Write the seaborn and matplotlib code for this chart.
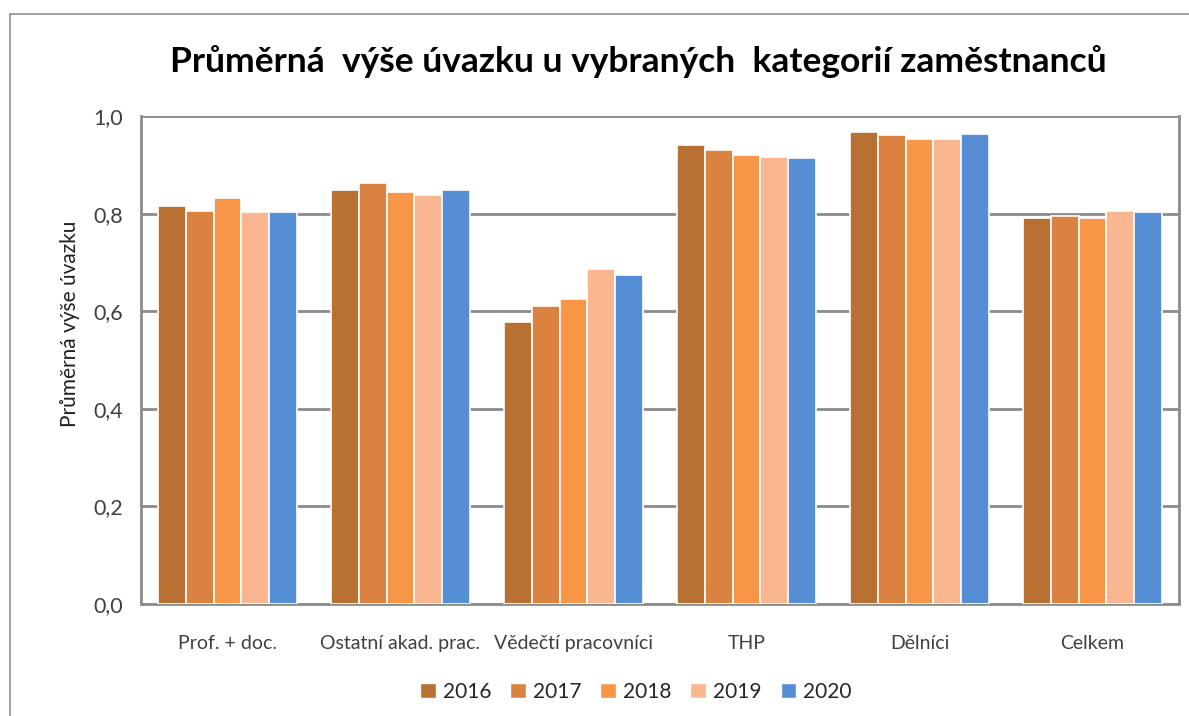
import pandas as pd
import numpy as np
import matplotlib
matplotlib.use('Agg')
import matplotlib.pyplot as plt
import seaborn as sns
from matplotlib.lines import Line2D

# data
kategorie = ['Prof. + doc.', 'Ostatní akad. prac.', 'Vědečtí pracovníci', 'THP', 'Dělníci', 'Celkem']
roky = ['2016', '2017', '2018', '2019', '2020']
hodnoty_2016 = [0.816, 0.848, 0.578, 0.941, 0.968, 0.791]
hodnoty_2017 = [0.805, 0.862, 0.610, 0.931, 0.961, 0.796]
hodnoty_2018 = [0.832, 0.845, 0.625, 0.921, 0.953, 0.791]
hodnoty_2019 = [0.803, 0.839, 0.686, 0.916, 0.953, 0.805]
hodnoty_2020 = [0.803, 0.848, 0.674, 0.913, 0.963, 0.803]
barvy = ['#B87132', '#DA8340', '#F79646', '#F9B690', '#558ED5']

hodnoty = [hodnoty_2016, hodnoty_2017, hodnoty_2018, hodnoty_2019, hodnoty_2020]
df = pd.DataFrame({
    'kategorie': [k for _ in roky for k in kategorie],
    'rok': [r for r in roky for _ in kategorie],
    'uvazek': [v for serie in hodnoty for v in serie],
})

sns.set_style('white')
plt.rcParams['font.family'] = ['Lato', 'DejaVu Sans']

fig = plt.figure(figsize=(11.89, 7.16), dpi=100)
ax = fig.add_axes([141 / 1189, 112 / 716, 1038 / 1189, 488 / 716])

sns.barplot(data=df, x='kategorie', y='uvazek', hue='rok', order=kategorie,
            hue_order=roky, palette=barvy, width=0.8, edgecolor='white',
            linewidth=1.2, saturation=1, legend=False, ax=ax, zorder=3)

seda = '#8C8C8C'
ax.set_ylim(0, 1.0)
ax.set_xlim(-0.5, len(kategorie) - 0.5)
ax.set_yticks(np.arange(0, 1.01, 0.2))
ax.set_yticklabels([f'{t:.1f}'.replace('.', ',') for t in np.arange(0, 1.01, 0.2)],
                   fontsize=15.5, color='#404040')
ax.yaxis.grid(True, color=seda, linewidth=2, zorder=0)
ax.set_axisbelow(True)

# category ticks on the boundaries, labels in the middle
ax.set_xticks(np.arange(-0.5, len(kategorie), 1.0))
ax.set_xticklabels([])
ax.set_xticks(np.arange(len(kategorie)), minor=True)
ax.set_xticklabels(kategorie, minor=True, fontsize=14, color='#404040')
ax.tick_params(axis='x', which='major', length=7, width=1.5, color=seda, direction='out')
ax.tick_params(axis='x', which='minor', length=0, pad=22)
ax.tick_params(axis='y', length=7, width=1.5, color=seda, direction='out', pad=6)

for s in ['left', 'bottom', 'right']:
    ax.spines[s].set_color(seda)
    ax.spines[s].set_linewidth(2)
ax.spines['top'].set_visible(False)

ax.set_xlabel('')
ax.set_ylabel('')
fig.text(70 / 1189, 1 - 324 / 716, 'Průměrná výše úvazku', rotation=90,
         ha='center', va='center', fontsize=15, color='#202020')

fig.text(638 / 1189, 1 - 62 / 716, 'Průměrná  výše úvazku u vybraných  kategorií zaměstnanců',
         ha='center', va='center', fontsize=25.5, fontweight='bold', color='black')

# legend below the chart
handles = [plt.Rectangle((0, 0), 1, 1, facecolor=c, edgecolor='white') for c in barvy]
fig.legend(handles, roky, loc='center', bbox_to_anchor=(636 / 1189, 1 - 692 / 716),
           ncol=5, frameon=False, fontsize=15, handlelength=0.75, handleheight=0.75,
           handletextpad=0.35, columnspacing=0.9)

# chart area border (left and top edges visible)
fig.add_artist(Line2D([10 / 1189, 10 / 1189], [0, 1 - 14 / 716], color='#9A9A9A', linewidth=1.3))
fig.add_artist(Line2D([10 / 1189, 1], [1 - 14 / 716, 1 - 14 / 716], color='#9A9A9A', linewidth=1.3))

fig.savefig('out.png', dpi=100, facecolor='white')
